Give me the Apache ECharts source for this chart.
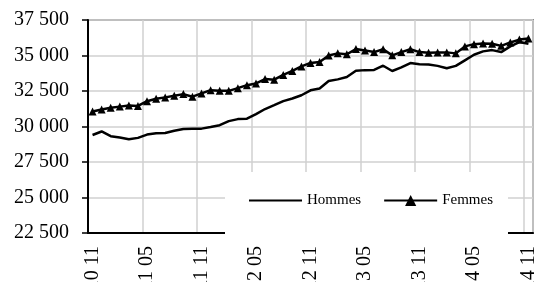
<!DOCTYPE html>
<html>
<head>
<meta charset="utf-8">
<script src="https://cdn.jsdelivr.net/npm/echarts@6/dist/echarts.min.js"></script>
<style>
  html, body { margin: 0; padding: 0; background: #fff; }
  #chart { width: 536px; height: 282px; }
</style>
</head>
<body>
<div id="chart"></div>
<script>
// mois (année mois), de 2010 11 à 2014 11
var months = [
  '2010 11', '2010 12',
  '2011 01', '2011 02', '2011 03', '2011 04', '2011 05', '2011 06',
  '2011 07', '2011 08', '2011 09', '2011 10', '2011 11', '2011 12',
  '2012 01', '2012 02', '2012 03', '2012 04', '2012 05', '2012 06',
  '2012 07', '2012 08', '2012 09', '2012 10', '2012 11', '2012 12',
  '2013 01', '2013 02', '2013 03', '2013 04', '2013 05', '2013 06',
  '2013 07', '2013 08', '2013 09', '2013 10', '2013 11', '2013 12',
  '2014 01', '2014 02', '2014 03', '2014 04', '2014 05', '2014 06',
  '2014 07', '2014 08', '2014 09', '2014 10', '2014 11'
];

var hommes = [
  29400, 29650, 29320, 29230, 29100, 29200, 29430, 29530, 29540, 29700,
  29830, 29850, 29850, 29960, 30090, 30380, 30520, 30550, 30870, 31230,
  31500, 31790, 31970, 32200, 32550, 32680, 33200, 33320, 33480, 33930,
  33970, 33980, 34280, 33910, 34160, 34470, 34390, 34370, 34270, 34100,
  34270, 34660, 35050, 35290, 35380, 35240, 35640, 35950, 35830
];

var femmes = [
  31050, 31200, 31320, 31400, 31480, 31450, 31780, 31950, 32050, 32170,
  32280, 32100, 32330, 32560, 32520, 32510, 32700, 32910, 33030, 33340,
  33300, 33630, 33910, 34230, 34480, 34540, 35000, 35150, 35090, 35450,
  35360, 35240, 35440, 35010, 35240, 35440, 35240, 35200, 35220, 35220,
  35150, 35640, 35800, 35850, 35830, 35680, 35920, 36120, 36200
];

var font = '"Liberation Serif", "Times New Roman", serif';

function fmt(v) {
  return String(v).replace(/\B(?=(\d{3})+(?!\d))/g, ' ');
}

var chart = echarts.init(document.getElementById('chart'));

chart.setOption({
  animation: false,
  backgroundColor: '#fff',
  grid: {
    left: 88, right: 3, top: 20, bottom: 49,
    outerBoundsMode: 'none',
    containLabel: false,
    show: true,
    borderColor: '#8c8c8c',
    borderWidth: 2
  },
  legend: {
    left: 225,
    top: 172,
    backgroundColor: '#fff',
    padding: [21, 15, 26, 23],
    itemWidth: 53,
    itemHeight: 14,
    itemGap: 22,
    textStyle: { fontFamily: font, fontSize: 15, color: '#000' },
    data: [
      { name: 'Hommes', itemStyle: { opacity: 0 } },
      { name: 'Femmes' }
    ]
  },
  xAxis: {
    type: 'category',
    data: months,
    boundaryGap: true,
    axisLine: { lineStyle: { color: '#000', width: 2 } },
    axisTick: { interval: 5, length: 5, lineStyle: { color: '#000', width: 1.5 } },
    axisLabel: {
      interval: 5,
      rotate: 90,
      margin: 13,
      fontFamily: font,
      fontSize: 20,
      color: '#000'
    },
    splitLine: { show: true, interval: 5, lineStyle: { color: '#d0d0d0', width: 1.5 } }
  },
  yAxis: {
    type: 'value',
    min: 22500,
    max: 37500,
    interval: 2500,
    axisLine: { show: true, lineStyle: { color: '#000', width: 2 } },
    axisTick: { show: true, length: 6, lineStyle: { color: '#000', width: 1.5 } },
    axisLabel: {
      margin: 19,
      fontFamily: font,
      fontSize: 20,
      color: '#000',
      formatter: fmt
    },
    splitLine: { show: true, lineStyle: { color: '#d0d0d0', width: 1.5 } }
  },
  series: [
    {
      name: 'Hommes',
      type: 'line',
      data: hommes,
      symbol: 'none',
      lineStyle: { color: '#000', width: 2.5 },
      itemStyle: { color: '#000' }
    },
    {
      name: 'Femmes',
      type: 'line',
      data: femmes,
      symbol: 'triangle',
      symbolSize: 8,
      showAllSymbol: true,
      lineStyle: { color: '#000', width: 2.5 },
      itemStyle: { color: '#000' }
    }
  ]
});
</script>
</body>
</html>
